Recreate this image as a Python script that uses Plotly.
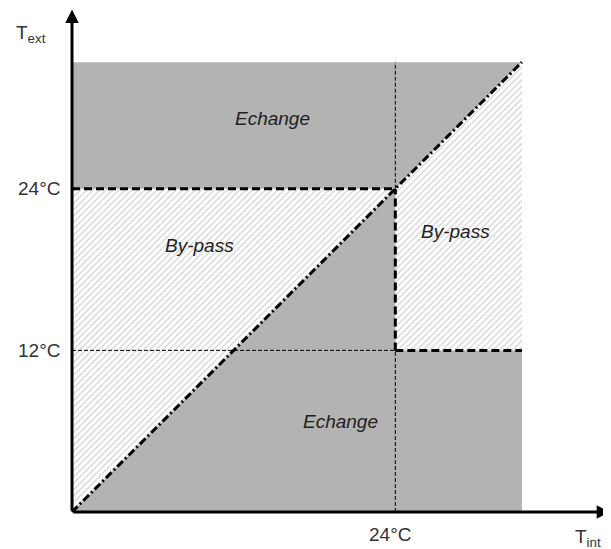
import plotly.graph_objects as go

# Schematic values (°C)
t_low = 12          # lower Text threshold
t_high = 24         # upper Text threshold / Tint setpoint
t_max = 33.4        # extent of the shaded domain
axis_end_x = 39.95  # arrow tip of Tint axis
axis_end_y = 37.3   # arrow tip of Text axis

region_labels = ["Echange", "By-pass", "By-pass", "Echange"]
region_x = [14.9, 9.5, 28.5, 19.9]
region_y = [29.25, 19.75, 20.8, 6.75]

GRAY = "#b3b3b3"
FONT = "Liberation Sans, Arial, sans-serif"
FS = 19

fig = go.Figure()

# Gray background (Echange)
fig.add_trace(go.Scatter(
    x=[0, t_max, t_max, 0, 0], y=[0, 0, t_max, t_max, 0],
    fill="toself", fillcolor=GRAY, line=dict(width=0), mode="lines",
    hoverinfo="skip", showlegend=False))

hatch = dict(shape="/", fgcolor="#a9a9a9", bgcolor="white", size=4.5, solidity=0.3)
# Hatched left triangle (By-pass)
fig.add_trace(go.Scatter(
    x=[0, 0, t_high, 0], y=[0, t_high, t_high, 0],
    fill="toself", fillcolor="white", fillpattern=hatch,
    line=dict(width=0), mode="lines", hoverinfo="skip", showlegend=False))
# Hatched right region (By-pass)
fig.add_trace(go.Scatter(
    x=[t_high, t_max, t_max, t_high, t_high], y=[t_low, t_low, t_max, t_high, t_low],
    fill="toself", fillcolor="white", fillpattern=hatch,
    line=dict(width=0), mode="lines", hoverinfo="skip", showlegend=False))

thin = dict(color="black", width=1, dash="4px,2px")
thick = dict(color="black", width=3, dash="8px,4px")

def seg(xs, ys, line):
    fig.add_trace(go.Scatter(x=xs, y=ys, mode="lines", line=line,
                             hoverinfo="skip", showlegend=False))

# thin guide lines
seg([0, t_high], [t_low, t_low], thin)
seg([t_high, t_high], [0, t_low], thin)
seg([t_high, t_high], [t_high, t_max], thin)
# thick boundaries
seg([0, t_high], [t_high, t_high], thick)
seg([t_high, t_high], [t_low, t_high], thick)
seg([t_high, t_max], [t_low, t_low], thick)
# diagonal Text = Tint
seg([0, t_max], [0, t_max], dict(color="black", width=3, dash="8px,3px,2px,3px"))

# axes with arrows
fig.add_annotation(x=axis_end_x, y=0, ax=0, ay=0, xref="x", yref="y",
                   axref="x", ayref="y", showarrow=True, arrowhead=2,
                   arrowsize=0.9, arrowwidth=3, arrowcolor="black", text="")
fig.add_annotation(x=0, y=axis_end_y, ax=0, ay=0, xref="x", yref="y",
                   axref="x", ayref="y", showarrow=True, arrowhead=2,
                   arrowsize=0.9, arrowwidth=3, arrowcolor="black", text="")

for t, x, y in zip(region_labels, region_x, region_y):
    fig.add_annotation(x=x, y=y, text=f"<i>{t}</i>", showarrow=False,
                       font=dict(family=FONT, size=FS, color="#222"))

# tick labels
fig.add_annotation(x=-0.75, y=t_high, text=f"{t_high}°C", xanchor="right",
                   showarrow=False, font=dict(family=FONT, size=FS, color="#333"))
fig.add_annotation(x=-0.75, y=t_low, text=f"{t_low}°C", xanchor="right",
                   showarrow=False, font=dict(family=FONT, size=FS, color="#333"))
fig.add_annotation(x=23.6, y=-1.7, text=f"{t_high}°C", showarrow=False,
                   font=dict(family=FONT, size=FS, color="#333"))
# axis titles
fig.add_annotation(x=37.2, y=-1.9, text="T<sub>int</sub>", xanchor="left",
                   showarrow=False, font=dict(family=FONT, size=FS, color="#333"))
fig.add_annotation(x=-4.3, y=35.5, text="T<sub>ext</sub>", xanchor="left",
                   showarrow=False, font=dict(family=FONT, size=FS, color="#333"))

# page has an 8px body margin: figure is sized/ranged to compensate
fig.update_layout(
    width=603, height=541, margin=dict(l=0, r=0, t=0, b=0),
    paper_bgcolor="white", plot_bgcolor="white",
    xaxis=dict(range=[-4.751, 40.01], visible=False, fixedrange=True),
    yaxis=dict(range=[-2.747, 37.42], visible=False, fixedrange=True),
)

fig.write_html("out.html")
